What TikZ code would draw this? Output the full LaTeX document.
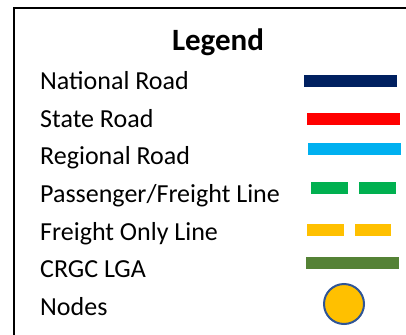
\documentclass[tikz,border=0pt]{standalone}
\usepackage{fontspec}
\setmainfont{Carlito}
\definecolor{navyroad}{HTML}{002060}
\definecolor{stateroad}{HTML}{FF0000}
\definecolor{regionroad}{HTML}{00B0F0}
\definecolor{passline}{HTML}{00B050}
\definecolor{freightline}{HTML}{FFC000}
\definecolor{lgagreen}{HTML}{548235}
\definecolor{nodeborder}{HTML}{2F5597}
\begin{document}
\begin{tikzpicture}[x=1pt,y=-1pt,
  label/.style={anchor=base west, inner sep=0pt, font=\fontsize{26}{30}\selectfont},
  titletext/.style={anchor=base, inner sep=0pt, font=\fontsize{31}{36}\selectfont\bfseries},
  sample/.style={line width=12pt, line cap=butt},
  dashsample/.style={sample, dash pattern=on 36.7pt off 11.3pt},
  nodesample/.style={circle, minimum size=40pt, inner sep=0pt, line width=2pt, draw=nodeborder, fill=freightline}]
\useasboundingbox (0,0) rectangle (406,334);
\clip (0,0) rectangle (406,334);
\fill[white] (0,0) rectangle (406,334);
\draw[line width=2pt] (14,8.5) rectangle (430,360);
\node[titletext] (title) at (218,50.5) {Legend};
\node[label] (national) at (40,89.3) {National Road};
\node[label] (state) at (40,127) {State Road};
\node[label] (regional) at (40,164.7) {Regional Road};
\node[label] (passenger) at (40,202.4) {Passenger/Freight Line};
\node[label] (freight) at (40,240.1) {Freight Only Line};
\node[label] (lga) at (40,277.8) {CRGC LGA};
\node[label] (nodes) at (40,315.5) {Nodes};
\draw[sample, navyroad] (304,80.7) -- (397,80.7);
\draw[sample, stateroad] (307,119) -- (400,119);
\draw[sample, regionroad] (308.3,148.7) -- (401,148.7);
\draw[dashsample, passline] (311,187.5) -- (395.7,187.5);
\draw[dashsample, freightline] (307,230) -- (391.3,230);
\draw[sample, lgagreen] (306,263.2) -- (399,263.2);
\node[nodesample] (nodecircle) at (344,304) {};
\end{tikzpicture}
\end{document}
